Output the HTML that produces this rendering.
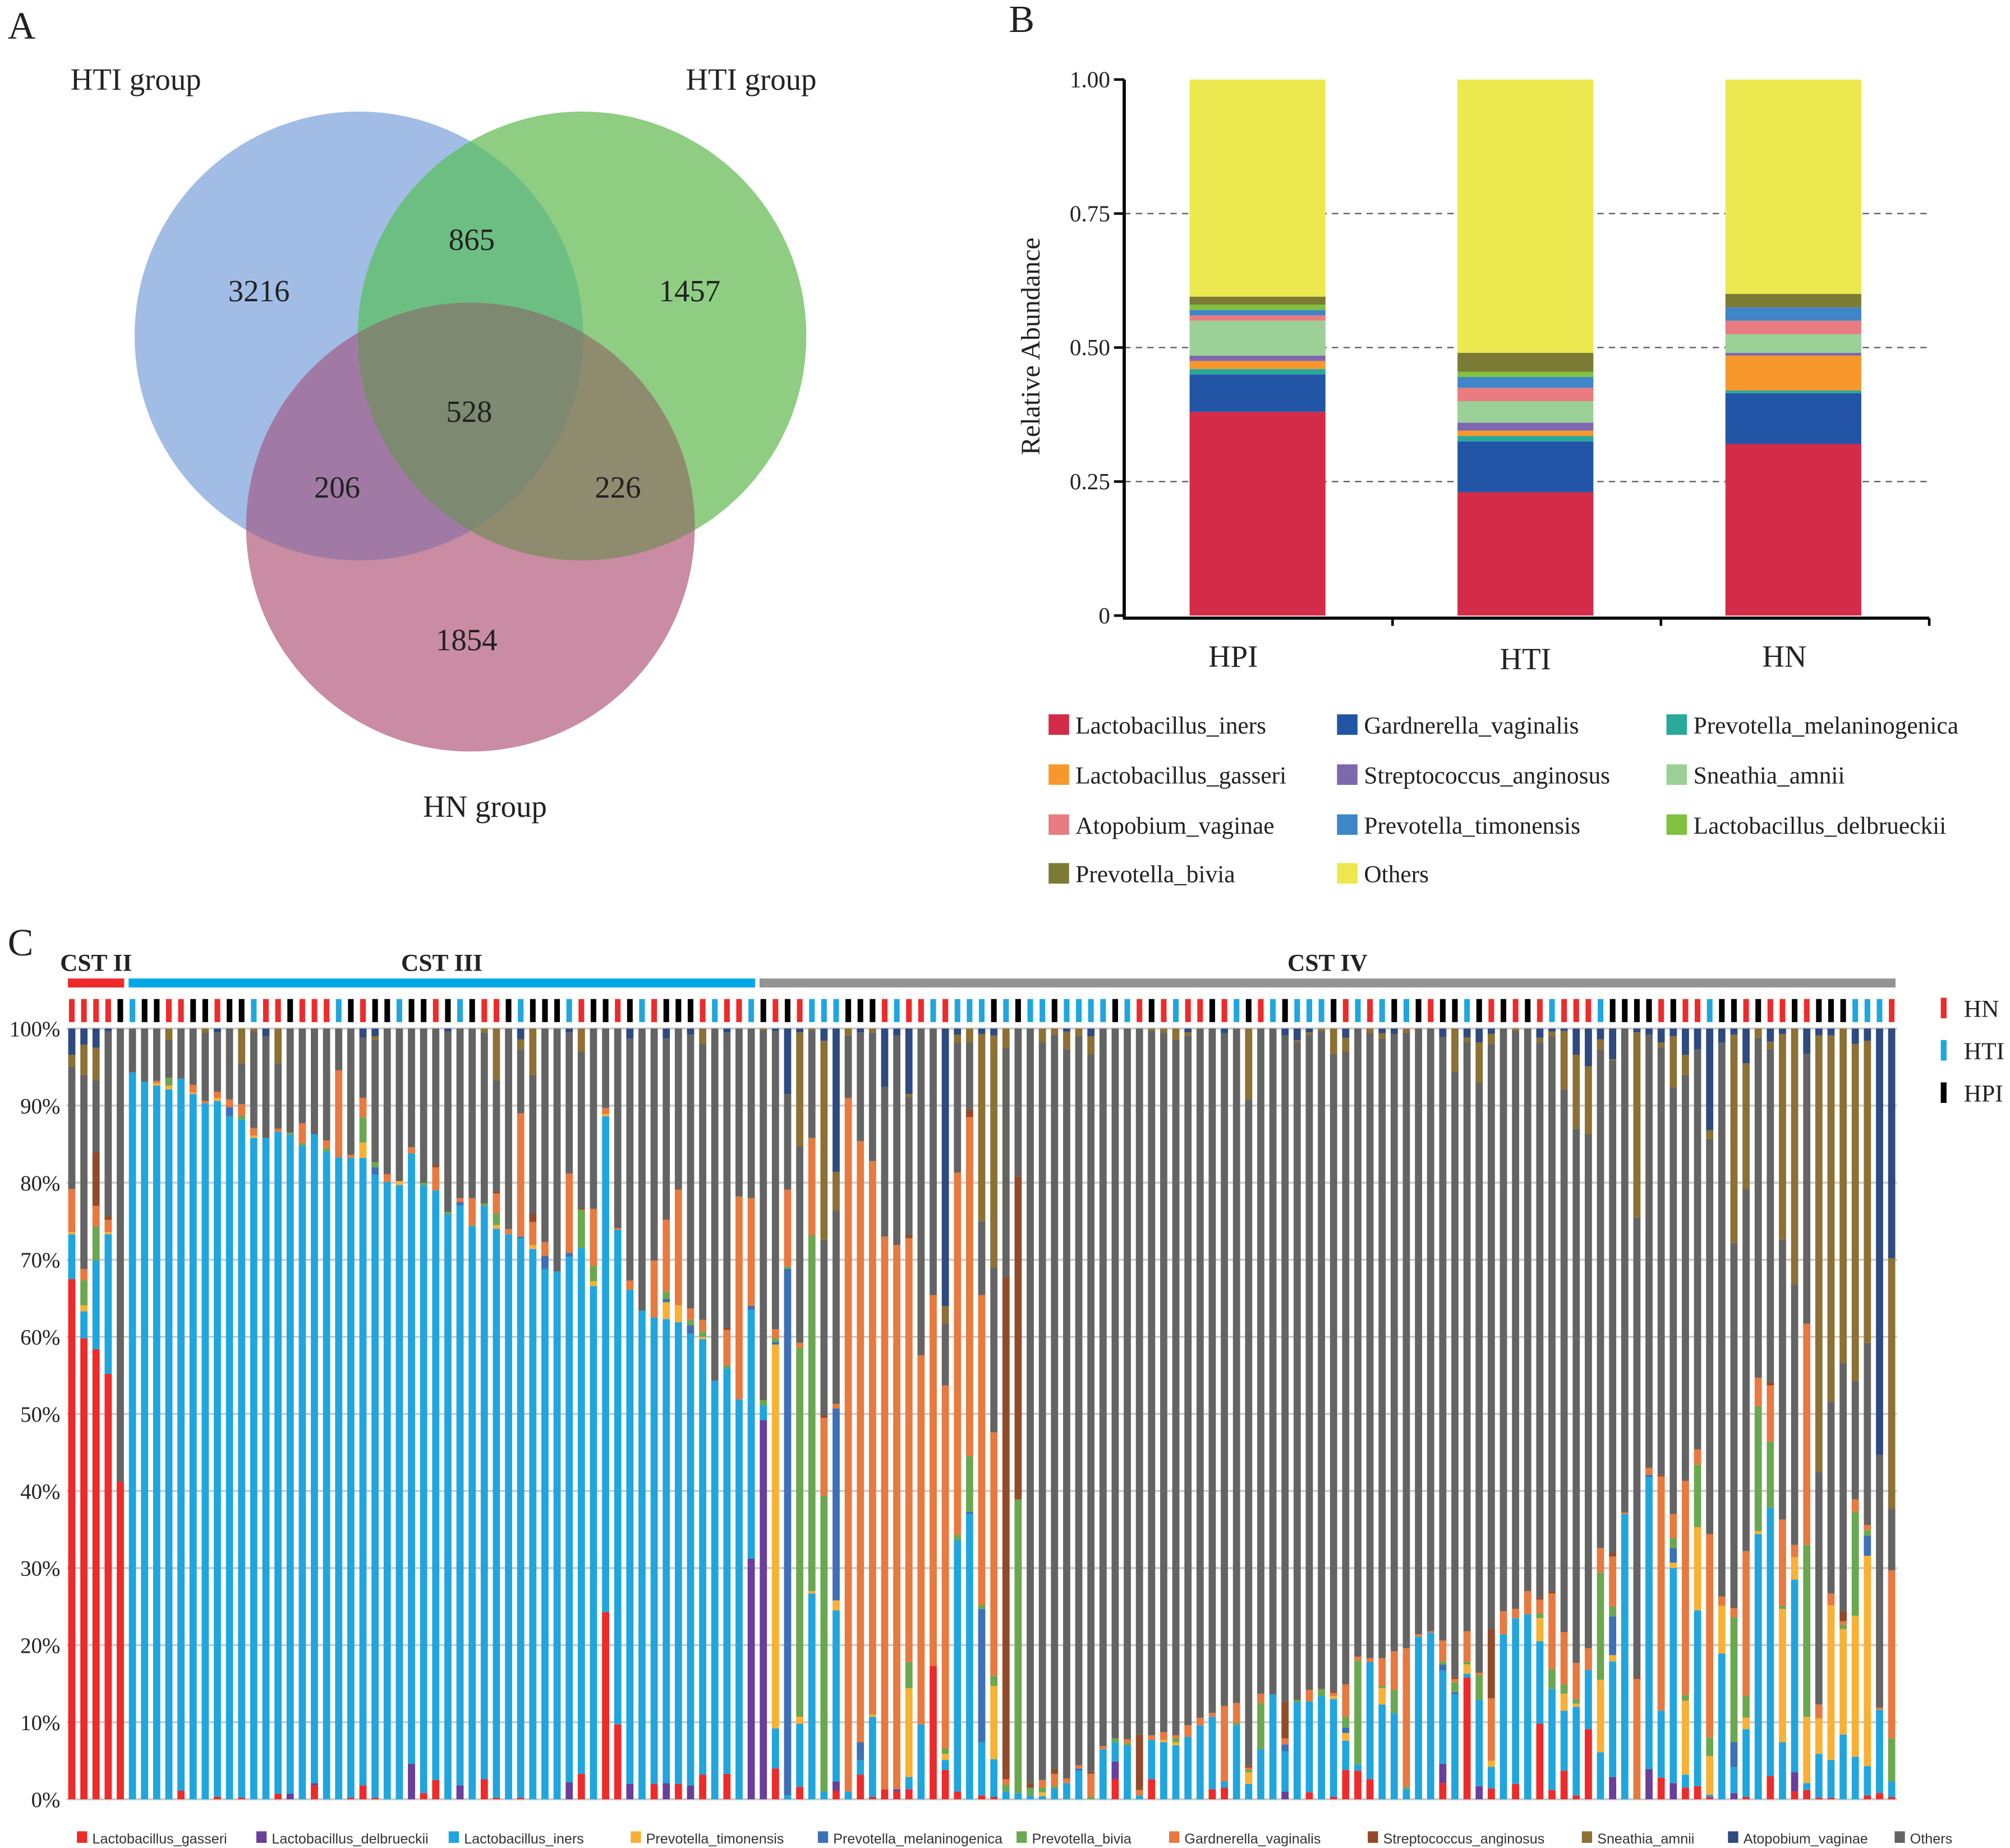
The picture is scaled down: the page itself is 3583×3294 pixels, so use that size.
<!DOCTYPE html>
<html><head><meta charset="utf-8"><title>Figure</title>
<style>
html,body{margin:0;padding:0;background:#fff;}
svg{display:block;}
.serif{font-family:"Liberation Serif",serif;}
.sans{font-family:"Liberation Sans",sans-serif;}
</style></head>
<body>
<svg id="fig" width="3583" height="3294" viewBox="0 0 1568 1441" preserveAspectRatio="none" xmlns="http://www.w3.org/2000/svg">
<rect x="0" y="0" width="1568" height="1441" fill="#fff"/>
<g id="panelA">
<defs>
<clipPath id="cBlue"><circle cx="280" cy="262" r="175"/></clipPath>
<clipPath id="cGreen"><circle cx="454" cy="262" r="175"/></clipPath>
<clipPath id="cPink"><circle cx="367" cy="411" r="175"/></clipPath>
</defs>
<circle cx="280" cy="262" r="175" fill="#a2bde5"/>
<circle cx="454" cy="262" r="175" fill="#8ecd82"/>
<circle cx="367" cy="411" r="175" fill="#c98ca2"/>
<circle cx="454" cy="262" r="175" fill="#6dbe82" clip-path="url(#cBlue)"/>
<circle cx="367" cy="411" r="175" fill="#a07aa5" clip-path="url(#cBlue)"/>
<circle cx="367" cy="411" r="175" fill="#8f8b6f" clip-path="url(#cGreen)"/>
<g clip-path="url(#cBlue)"><circle cx="367" cy="411" r="175" fill="#7d8971" clip-path="url(#cGreen)"/></g>
<g class="serif" font-size="24" fill="#222">
<text x="6" y="30" font-size="30">A</text>
<text x="55" y="70">HTI group</text>
<text x="535" y="70">HTI group</text>
<text x="330" y="637">HN group</text>
<text x="202" y="235" text-anchor="middle">3216</text>
<text x="368" y="195" text-anchor="middle">865</text>
<text x="538" y="235" text-anchor="middle">1457</text>
<text x="366" y="329" text-anchor="middle">528</text>
<text x="263" y="388" text-anchor="middle">206</text>
<text x="482" y="388" text-anchor="middle">226</text>
<text x="364" y="507" text-anchor="middle">1854</text>
</g>
</g>
<g id="panelB"></g>
<g id="panelC"></g>
</svg>
<script>
var NS="http://www.w3.org/2000/svg";
function mk(parent,tag,attrs,txt){var e=document.createElementNS(NS,tag);for(var k in attrs)e.setAttribute(k,attrs[k]);if(txt!==undefined)e.textContent=txt;parent.appendChild(e);return e;}

/* ---------- Panel B data ---------- */
var bGroups=["HPI","HTI","HN"];
var bSpecies=["Lactobacillus_iners","Gardnerella_vaginalis","Prevotella_melaninogenica","Lactobacillus_gasseri","Streptococcus_anginosus","Sneathia_amnii","Atopobium_vaginae","Prevotella_timonensis","Lactobacillus_delbrueckii","Prevotella_bivia","Others"];
var bColors=["#d42b48","#2355a6","#28a99a","#f7972c","#7d68ae","#9bd096","#e97c80","#3e86c7","#80c140","#7c7b35","#ebe94f"];
var bHPI=[0.38,0.07,0.01,0.015,0.01,0.065,0.01,0.01,0.01,0.015,0.405];
var bHTI=[0.23,0.095,0.01,0.01,0.015,0.04,0.025,0.02,0.01,0.035,0.51];
var bHN=[0.32,0.095,0.005,0.065,0.005,0.035,0.025,0.025,0.0,0.025,0.40];
var bTicks=[0,0.25,0.5,0.75,1.0];
var bTickLabels=["0","0.25","0.50","0.75","1.00"];
var bLegendOrder=[0,1,2,3,4,5,6,7,8,9,10];

(function(){
var g=document.getElementById("panelB");
var x0=877,x1=1505,y0=480,y1=62;
function ys(v){return y0-(y0-y1)*v;}
var band=(x1-x0)/3, bw=106;
function xc(i){return 981+209*i;}
var labelX=[962,1190,1392];
var t=mk(g,"text",{x:787,y:25,"font-size":30,"class":"serif",fill:"#222"},"B");


for(var i=1;i<bTicks.length-1;i++){
 var l=mk(g,"line",{x1:x0,x2:x1,y1:ys(bTicks[i]),y2:ys(bTicks[i]),stroke:"#555","stroke-width":1,"stroke-dasharray":"5,4"});
 
 
}
var data=[bHPI,bHTI,bHN];
for(var gi=0;gi<3;gi++){
 var cum=0,cx=xc(gi);
 for(var s=0;s<bSpecies.length;s++){
  var v=data[gi][s];
  if(s==bSpecies.length-1)v=1-cum;
  if(v<=0){continue;}
  var r=mk(g,"rect",{x:cx-bw/2,y:ys(cum+v),width:bw,height:ys(cum)-ys(cum+v),fill:bColors[s]});
  
  
  cum+=v;
 }
 var tl=mk(g,"text",{x:labelX[gi],y:gi==1?522:520,"text-anchor":"middle","font-size":24,"class":"serif",fill:"#222"},bGroups[gi]);
 
 
}
var ya=mk(g,"line",{x1:x0,x2:x0,y1:y1,y2:y0+2,stroke:"#000","stroke-width":2.5});


var xa=mk(g,"line",{x1:x0-1,x2:x1,y1:y0+2,y2:y0+2,stroke:"#000","stroke-width":2.5});


for(var k=1;k<=3;k++){mk(g,"line",{x1:x0+band*k,x2:x0+band*k,y1:y0+2,y2:y0+8,stroke:"#000","stroke-width":2});}
for(var i=0;i<bTicks.length;i++){
 mk(g,"line",{x1:x0-8,x2:x0,y1:ys(bTicks[i]),y2:ys(bTicks[i]),stroke:"#000","stroke-width":2});
 var tt=mk(g,"text",{x:866,y:ys(bTicks[i])+6,"text-anchor":"end","font-size":18,"class":"serif",fill:"#222"},bTickLabels[i]);
 
 
}
var yt=mk(g,"text",{x:0,y:0,transform:"translate(811,270) rotate(-90)","text-anchor":"middle","font-size":21,"class":"serif",fill:"#222"},"Relative Abundance");


var colsX=[818,1043,1300], rowsY=[566,605,644,682];
for(var j=0;j<bLegendOrder.length;j++){
 var s=bLegendOrder[j], c=j%3, rr=Math.floor(j/3);
 var lx=colsX[c], ly=rowsY[rr];
 var le=mk(g,"g",{});
 
 
 mk(le,"rect",{x:lx,y:ly-9,width:16,height:16,fill:bColors[s]});
 mk(le,"text",{x:lx+21,y:ly+6,"font-size":19,"class":"serif",fill:"#222"},bSpecies[s]);
}
})();

/* ---------- Panel C data ---------- */
var cSpecies=["Lactobacillus_gasseri","Lactobacillus_delbrueckii","Lactobacillus_iners","Prevotella_timonensis","Prevotella_melaninogenica","Prevotella_bivia","Gardnerella_vaginalis","Streptococcus_anginosus","Sneathia_amnii","Atopobium_vaginae","Others"];
var cColors=["#ee2a2a","#6a3e9b","#1fa6df","#f8b133","#3d70b7","#6aa84f","#e8793f","#924b2a","#8d7034","#2e4a7f","#646464"];
var gasseri=[67.5,59.8,58.4,55.2,41.2,0,0,0,0,1.1, 0,0,.3,0,.2,0,0,.7,0,0, 1.8,0,0,.2,1.8,.2,0,0,0,.8, 2.5,0,0,0,2.6,.2,0,.2,0,0, 0,0,3.3,0,24.3,9.7,0,0,2,0, 2,0,3.2,0,3.3,0,0,0,4,0, 1.6,0,0,1.1,0,3.2,.3,1.3,1,1.3, 0,17.3,3.8,1,0,.5,.3,0,0,0, 0,0,0,0,0,0,2.6,0,0,2.6, 0,0,0,0,1.3,1.5,0,0,0,0, 0,0,.9,0,.3,3.8,3.7,2.6,0,0, 0,0,0,2.1,0,15.8,0,1.4,0,2, 0,9.8,1.2,3.7,.5,9.1,0,0,0,0, 0,2.8,0,1.5,1.7,.3,0,0,.3,0, 3,0,1,1.2,.2,.2,0,0,.5,.8, .3];
var delbrueckii=[0,0,0,0,0,0,0,0,0,0, 0,0,0,0,0,0,0,0,.7,0, .3,0,0,0,0,0,0,0,4.6,0, 0,0,1.8,0,0,0,0,0,0,0, 0,2.2,0,0,0,0,2,0,0,2.1, 0,1.8,0,0,0,0,31.2,49.2,0,0, 0,0,0,1.2,0,0,0,0,.3,0, 0,0,0,0,0,0,0,0,0,0, 0,0,0,0,0,0,2.3,0,0,0, 0,0,0,0,0,0,0,0,0,0, 1,0,0,0,0,0,0,0,0,0, 0,0,0,2.5,0,0,1.7,0,0,0, 0,0,0,0,0,0,0,2.9,0,0, 3.9,0,2.1,0,0,0,0,.8,0,0, 0,0,2.5,0,0,0,0,0,0,0, 0];
var iners=[5.8,3.5,11.5,18.1,0,94.3,93.1,92.6,92.1,92.4, 91.5,90.3,90.3,88.6,88,85.8,85.8,85.9,85.5,84.8, 84.2,84,83.3,83,81.4,80.8,80.1,79.7,79.2,78.9, 76.5,75.9,75.2,74.3,74.4,73.8,73.3,72.6,71.4,68.8, 68.5,68.2,68.2,66.6,64.3,64.2,64.1,63.4,60.5,60.2, 59.9,58.6,56.5,54.3,52.6,51.9,32.3,1.9,5.2,.5, 8.2,26.7,1,22.2,1,1.9,10.4,0,0,1.6, 9.7,0,1.3,32.6,37,6.9,4.9,1,.8,.5, .4,1.4,2.1,3.7,0,6.5,2.5,7,.5,5.1, 7.4,7,8.1,9.6,9.4,.8,9.6,2,6.5,13.6, 5.2,12.6,11.8,13.4,12.7,3.8,.8,15.2,12.3,11.2, 1.3,21.1,21.6,12.1,13.6,.5,11.2,2.8,21.4,21.5, 24,10.7,13.1,7.8,11.5,7.7,6.1,15,37,0, 37.9,8.7,27.9,1.7,22.8,.3,18.9,3.4,8.8,34.4, 34.8,7.4,25,.9,5.7,4.9,8.4,5.5,3.8,10.8, 2];
var timonensis=[.3,.8,0,.3,0,0,0,.3,.5,0, .2,0,.4,0,0,.3,0,0,0,0, 0,0,0,0,2,0,0,.5,0,0, 0,0,0,0,0,.5,0,0,.5,0, 0,0,0,.6,.3,0,0,0,0,2.2, 2.2,0,.3,0,0,0,0,0,49.8,0, .9,.3,0,1.3,0,0,.3,0,0,11.5, 0,0,.8,0,0,0,9.5,0,0,0, .5,0,0,0,0,0,0,0,0,0, .3,.4,0,0,0,0,0,1.5,0,0, 0,0,0,0,.4,1,0,0,2.1,0, 0,0,0,0,0,1.2,0,.8,0,0, 0,3,0,2.2,.4,0,9.4,.8,0,0, 0,0,.7,9.6,10.8,5,6.2,0,1.5,.4, 0,17.3,2.9,8.6,4.6,20.1,13.7,18.3,27.3,0, 0];
var melaninogenica=[0,0,0,0,0,0,0,0,0,0, 0,0,0,1.2,0,0,0,0,0,0, 0,0,0,0,0,1,0,0,0,0, 0,0,.5,0,0,0,0,.2,0,1.7, 0,.5,0,0,0,0,0,0,0,.4, 0,1.1,0,0,0,0,.5,0,.3,68.3, 0,0,0,24.9,0,2.3,0,0,0,0, 0,0,0,0,.3,17.3,0,0,0,0, 0,0,0,.3,0,0,0,0,0,0, 0,0,0,0,0,0,0,0,0,0, .9,0,0,0,0,.7,0,0,0,0, 0,0,0,.8,.3,0,0,0,0,0, 0,0,0,0,0,0,0,5,0,0, .3,0,1.9,0,0,0,0,3.2,0,0, 0,0,0,0,0,0,0,0,2.6,0, 0];
var bivia=[0,3.2,4.4,0,0,0,0,0,1,0, 0,0,0,0,.5,0,0,0,.3,.3, 0,.5,0,0,3.3,.7,0,0,0,.3, 0,.3,0,.2,.3,1.5,0,0,0,0, 0,0,5,2,0,0,0,0,0,1, 0,.7,.7,0,.4,0,0,.7,.5,.3, 47.9,46.2,38.4,0,0,0,0,0,0,3.4, 0,0,.7,.7,7.2,.5,1.3,.9,38.1,1, .6,.3,0,0,.3,0,.5,.3,0,0, 0,.5,0,0,0,0,.3,.3,6,0, 0,.3,0,.9,0,1.4,13.5,0,.3,3, .3,0,0,.4,1.3,.3,3.2,0,0,0, 0,.6,2.6,1.2,.6,0,13.9,1.3,0,0, 0,0,1.3,.7,8.1,2.4,0,16.2,2.8,16.2, 8.6,.4,0,22.3,0,0,.5,13.5,.7,0, 5.6];
var gardnerella=[5.6,1.5,2.7,1.6,0,0,0,.3,0,0, 1,.3,.8,1,1.5,1,0,.4,0,2.6, 0,1,11.3,.4,2.5,0,1,0,.8,0, 3,0,.5,3.5,0,2.6,.7,16,3,1.8, 0,10.3,0,7.4,.8,.2,1.2,0,7.4,9.3, 15,1.5,1.5,0,4.6,26.3,14,0,1.2,10, .6,12.6,10.1,.6,90,78,71.8,71.7,70.6,55, 47.9,48.1,47.1,47,44,40.2,31.6,.7,0,0, 1,1.6,.6,.4,3,.4,0,.5,.7,.6, 1,.4,1.5,1,.5,9.8,2.6,.3,1.2,0, .8,0,1.5,0,.4,4.2,.5,.5,3.6,5, 18,.3,.2,2.7,.4,4,.3,8.1,3,1.2, 3,1.8,9.8,6.8,4.7,2.8,3.2,6.5,.2,15.6, .9,30.4,3.1,27.8,2,26.4,1.2,1.2,18.8,3.7, 7.3,11.2,1.6,28.7,1.8,1.5,.5,1.6,.7,.3, 21.8];
var anginosus=[0,0,6.9,.5,0,0,0,0,0,0, 0,0,0,0,0,0,0,0,0,0, 0,0,0,0,0,0,0,0,0,0, .3,0,0,0,0,.3,0,0,1.1,0, 0,0,.2,0,0,0,0,0,0,0, 0,0,0,0,.3,0,0,0,0,0, 0,0,.3,0,0,0,0,0,0,.4, 0,0,0,0,1,0,0,65.1,41.9,.6, 0,.6,0,0,.3,0,0,0,7.2,0, 0,0,0,0,0,0,0,.3,0,0, 4.8,0,0,0,.2,0,0,0,0,0, 0,0,0,0,.3,0,0,9,0,0, 0,.3,.3,0,0,0,0,.5,0,.2, 0,.2,0,0,0,0,0,0,0,0, .4,0,0,0,0,0,1.3,0,0,0, 0];
var sneathia=[1.5,3.9,4.2,0,0,0,0,0,1.5,0, 0,.5,0,0,4.5,.3,0,4.5,0,0, 0,0,0,0,0,.5,0,0,0,0, 0,0,0,0,.5,6.7,0,1.3,6,0, 0,0,3,0,0,0,0,0,0,0, 0,0,2,0,0,0,0,.2,0,0, 14.8,.2,25.8,5,.9,0,.5,0,0,.4, 0,0,2.3,1,1.8,24.3,30.1,2.5,0,0, 1.8,.8,2.3,1,2.4,0,0,0,0,.3, .5,1.5,.5,0,0,0,0,9.2,0,0, 0,.2,.3,.3,3.3,1.8,0,.6,.7,0, .5,0,0,0,5.6,.5,5.2,1.3,0,.3, 0,.6,.6,7.6,9.6,8.8,1.3,.2,0,24, 0,.6,6.6,2.6,0,1.1,0,27,16.3,1.2, 1,26.7,33.2,0,56.6,47.5,43.4,43.7,39.2,0, 32.5];
var atopobium=[3.4,2.1,2.5,.4,0,0,0,0,0,0, 0,0,.5,0,0,0,1,0,0,0, 0,0,0,0,1.2,1,0,0,0,0, 0,.4,0,0,0,0,0,1.4,0,0, 0,.5,0,0,0,0,1.3,0,0,1.3, 0,.8,0,0,.5,0,0,0,.3,8.5, .5,0,1.6,18.6,0,.5,0,7.6,.9,8.5, 0,0,36,.8,0,.7,.9,0,0,0, 0,0,.4,0,1,0,0,0,0,0, 0,0,.5,0,0,.6,0,0,0,0, .9,1.5,.5,0,0,1.2,0,0,.6,.7, 0,0,0,1.1,0,1.2,1.8,.7,0,0, 0,1.2,.4,.3,3.4,4.9,1.4,4,0,.5, .8,1.8,1,3.4,2.7,13.2,1.8,.8,4.5,0, 1.7,.7,0,3.3,.9,.9,0,2,1.6,55.3, 29.8];
var groupCodes=["HN","HN","HN","HN","HPI","HTI","HPI","HPI","HN","HN","HPI","HPI","HN","HPI","HPI","HTI","HN","HN","HPI","HN","HN","HN","HTI","HPI","HN","HPI","HPI","HTI","HPI","HPI","HN","HPI","HTI","HPI","HN","HN","HPI","HTI","HPI","HPI","HPI","HTI","HN","HPI","HPI","HN","HPI","HTI","HN","HPI","HPI","HPI","HN","HTI","HN","HN","HTI",
"HPI","HN","HPI","HN","HTI","HTI","HTI","HPI","HPI","HPI","HN","HTI","HN","HN","HTI","HN","HTI","HTI","HTI","HPI","HTI","HPI","HTI","HTI","HPI","HTI","HTI","HTI","HTI","HPI","HTI","HN","HPI","HN","HTI","HN","HN","HPI","HN","HTI","HPI","HN","HTI","HPI","HTI","HTI","HTI","HPI",
"HN","HTI","HN","HTI","HPI","HTI","HPI","HN","HPI","HPI","HTI","HPI","HN","HPI","HN","HPI","HN","HTI","HN","HN","HN","HTI","HPI","HPI","HPI","HPI","HN","HPI","HN","HN","HTI","HPI","HPI","HN","HPI","HN","HN","HPI","HN","HPI","HPI","HPI","HTI","HTI","HTI","HN"];
var cstNames=["CST II","CST III","CST IV"];
var cstStart=[1,6,58];
var cstEnd=[5,57,151];
var cstColors=["#ee2a2a","#00a9e6","#939393"];
var groupNames=["HN","HTI","HPI"];
var groupColors={"HN":"#ee2a2a","HTI":"#1fa6df","HPI":"#000000"};
var cTicks=[0,10,20,30,40,50,60,70,80,90,100];
var cLegendX=[60,200,350,492,638,793,912,1067,1234,1348,1478];

(function(){
var g=document.getElementById("panelC");
// stacking order bottom-up: gasseri..anginosus, Others, Sneathia, Atopobium
var series=[gasseri,delbrueckii,iners,timonensis,melaninogenica,bivia,gardnerella,anginosus,null,sneathia,atopobium];
var seriesIdx=[0,1,2,3,4,5,6,7,10,8,9];
var n=iners.length;
var px0=52,px1=1480,y0=1403,y1=802;
var first=56,last=1475.7;
function xs(i){return first+(last-first)*i/(n-1);}
function ys(v){return y0-(y0-y1)*v/100;}
var bw=5.6;
var t=mk(g,"text",{x:6,y:745,"font-size":30,"class":"serif",fill:"#222"},"C");


for(var i=0;i<cTicks.length;i++){
 var gl=mk(g,"line",{x1:px0,x2:px1,y1:ys(cTicks[i]),y2:ys(cTicks[i]),stroke:"#cccccc","stroke-width":1.6});
 
 
 var tl=mk(g,"text",{x:47,y:ys(cTicks[i])+6,"text-anchor":"end","font-size":17,"class":"serif",fill:"#222"},cTicks[i]+"%");
 
 
}
for(var b=0;b<n;b++){
 var cx=xs(b),cum=0,known=0;
 for(var q=0;q<series.length;q++){if(series[q])known+=series[q][b];}
 var bg=mk(g,"g",{});
 
 
 for(var s=0;s<series.length;s++){
  var v=series[s]?series[s][b]:Math.max(0,100-known);
  if(v<=0)continue;
  var si=seriesIdx[s];
  var r=mk(bg,"rect",{x:cx-bw/2,y:ys(cum+v),width:bw,height:ys(cum)-ys(cum+v),fill:cColors[si]});
  
  
  cum+=v;
 }
 var m=mk(g,"rect",{x:cx-2.2,y:779,width:4.4,height:18,fill:groupColors[groupCodes[b]]});
 
 
}
for(var c=0;c<cstNames.length;c++){
 var xa=xs(cstStart[c]-1)-3, xb=xs(cstEnd[c]-1)+3;
 var cr=mk(g,"rect",{x:xa,y:763,width:xb-xa,height:7,fill:cstColors[c]});
 
 
 var ct=mk(g,"text",{x:(xa+xb)/2,y:757,"text-anchor":"middle","font-size":19,"font-weight":"bold","class":"serif",fill:"#222"},cstNames[c]);
 
 
}
for(var k=0;k<groupNames.length;k++){
 var ly=786+k*33;
 var le=mk(g,"g",{});
 
 
 mk(le,"rect",{x:1514,y:ly-8,width:4.5,height:16,fill:groupColors[groupNames[k]]});
 mk(le,"text",{x:1532,y:ly+7,"font-size":19,"class":"serif",fill:"#222"},groupNames[k]);
}
for(var s=0;s<cSpecies.length;s++){
 var le2=mk(g,"g",{});
 
 
 mk(le2,"rect",{x:cLegendX[s],y:1428,width:8,height:9,fill:cColors[s]});
 mk(le2,"text",{x:cLegendX[s]+12,y:1437.5,"font-size":11,"class":"sans",fill:"#333"},cSpecies[s]);
}
})();
</script>
</body></html>
